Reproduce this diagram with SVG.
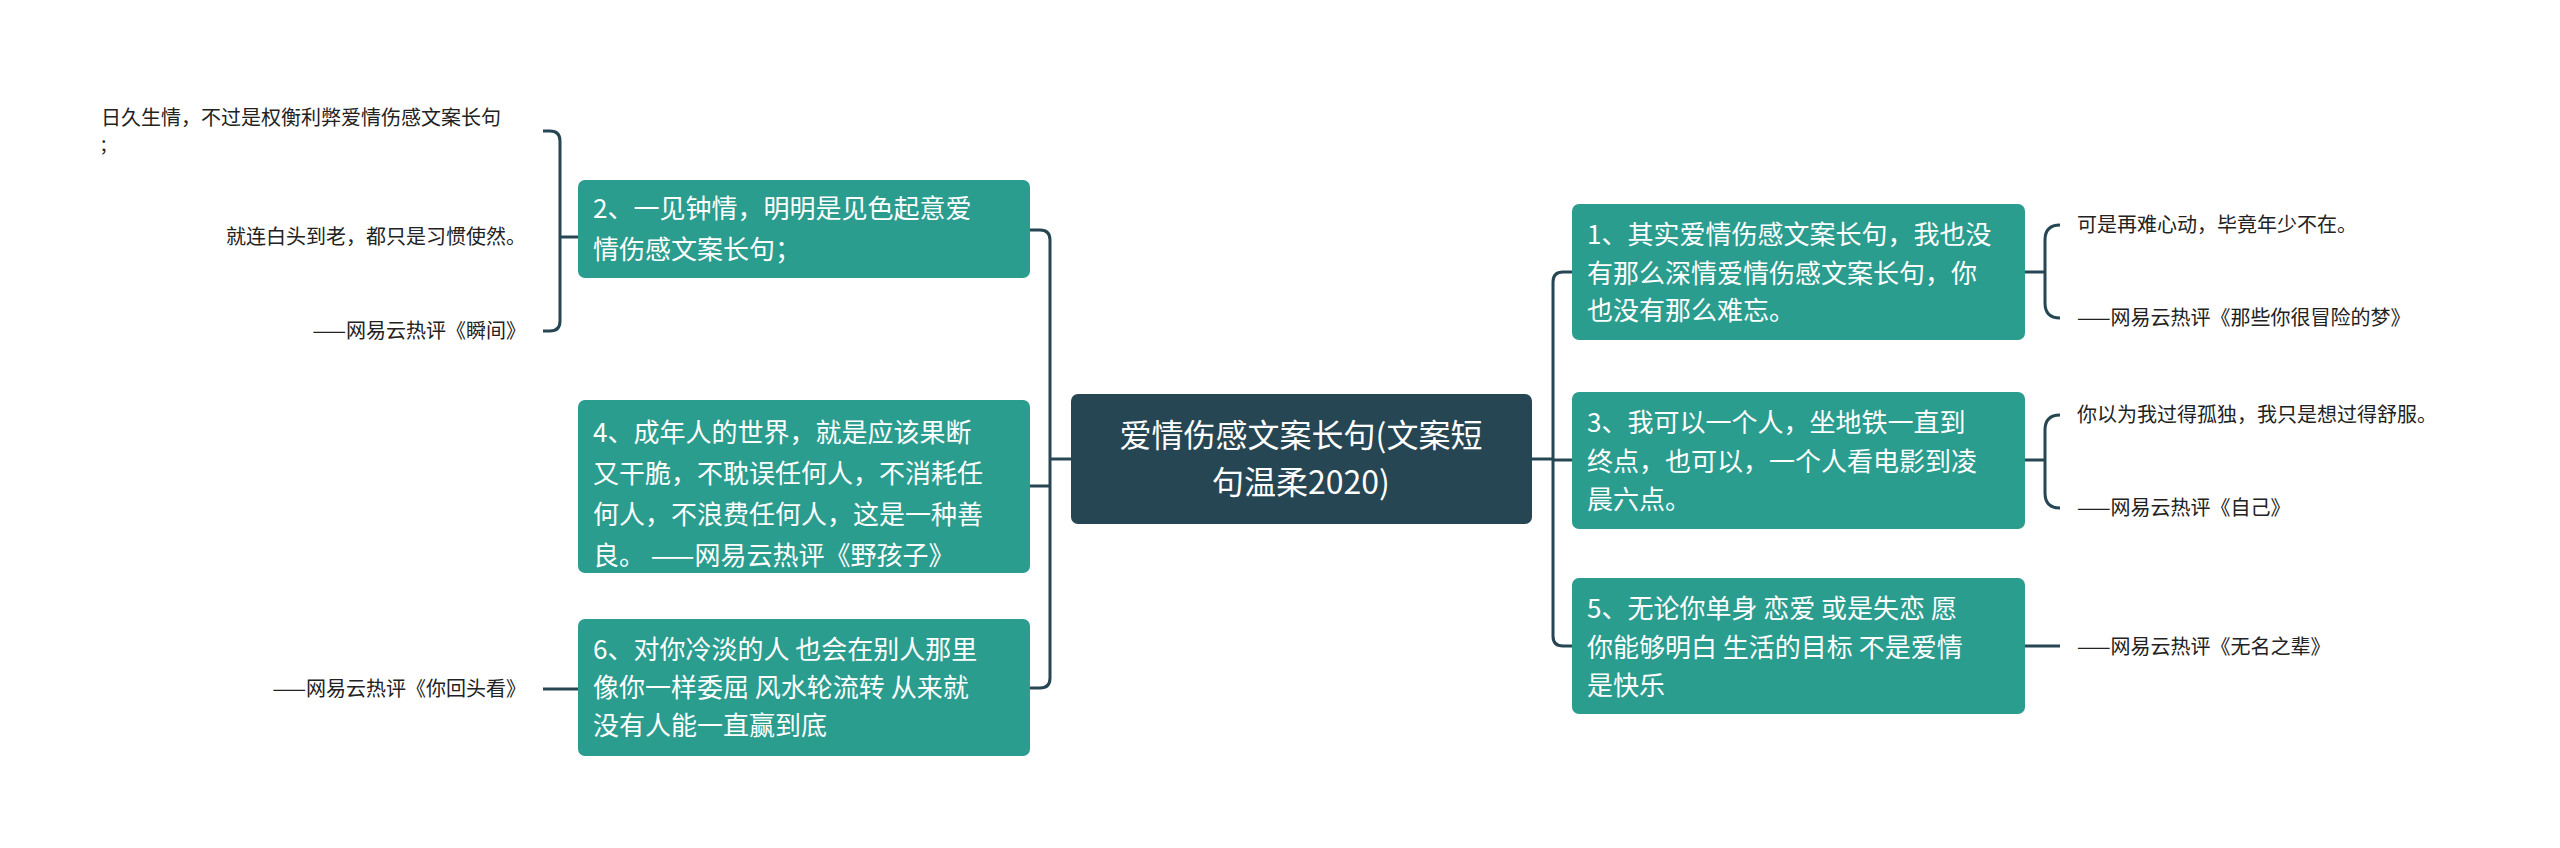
<svg xmlns="http://www.w3.org/2000/svg" width="2560" height="848" viewBox="0 0 2560 848">
<style>
.n rect{fill:#2a9d8f}
.n text{fill:#fff;font-size:26px;font-family:"Noto Sans CJK SC",sans-serif}
.c rect{fill:#264653}
.c text{fill:#fff;font-size:32px;font-family:"Noto Sans CJK SC",sans-serif;text-anchor:middle}
.l text{fill:#222;font-size:20px;font-family:"Noto Sans CJK SC",sans-serif}
.r{text-anchor:end}
#conn path{fill:none;stroke:#264653;stroke-width:3}
</style>
<rect width="2560" height="848" fill="#fff"/>
<g id="conn">
<path d="M1030 230 H1040 Q1050 230 1050 240 V678 Q1050 688 1040 688 H1030"/>
<path d="M1030 486 H1050"/>
<path d="M1050 459 H1071"/>
<path d="M1532 459 H1553"/>
<path d="M1572 272 H1563 Q1553 272 1553 282 V636 Q1553 646 1563 646 H1572"/>
<path d="M1553 460 H1572"/>
<path d="M578 237 H560"/>
<path d="M543 131 H550 Q560 131 560 141 V321 Q560 331 550 331 H543"/>
<path d="M578 689 H543"/>
<path d="M2025 272 H2045"/>
<path d="M2060 225 Q2045 225 2045 240 V303 Q2045 318 2060 318"/>
<path d="M2025 460 H2045"/>
<path d="M2060 415 Q2045 415 2045 430 V493 Q2045 508 2060 508"/>
<path d="M2025 646 H2060"/>
</g>
<g id="center" class="c"><rect x="1071" y="394" width="461" height="130" rx="7"/><text x="1301" y="447">爱情伤感文案长句(文案短</text><text x="1301" y="494">句温柔2020)</text></g>
<g id="n2" class="n"><rect x="578" y="180" width="452" height="98" rx="7"/><text x="593" y="218">2、一见钟情，明明是见色起意爱</text><text x="593" y="259">情伤感文案长句；</text></g>
<g id="n4" class="n"><rect x="578" y="400" width="452" height="173" rx="7"/><text x="593" y="442">4、成年人的世界，就是应该果断</text><text x="593" y="483">又干脆，不耽误任何人，不消耗任</text><text x="593" y="524">何人，不浪费任何人，这是一种善</text><text x="593" y="565">良。 ——网易云热评《野孩子》</text></g>
<g id="n6" class="n"><rect x="578" y="619" width="452" height="137" rx="7"/><text x="593" y="659">6、对你冷淡的人 也会在别人那里</text><text x="593" y="697">像你一样委屈 风水轮流转 从来就</text><text x="593" y="735">没有人能一直赢到底</text></g>
<g id="n1" class="n"><rect x="1572" y="204" width="453" height="136" rx="7"/><text x="1587" y="244">1、其实爱情伤感文案长句，我也没</text><text x="1587" y="283">有那么深情爱情伤感文案长句，你</text><text x="1587" y="320">也没有那么难忘。</text></g>
<g id="n3" class="n"><rect x="1572" y="392" width="453" height="137" rx="7"/><text x="1587" y="432">3、我可以一个人，坐地铁一直到</text><text x="1587" y="471">终点，也可以，一个人看电影到凌</text><text x="1587" y="509">晨六点。</text></g>
<g id="n5" class="n"><rect x="1572" y="578" width="453" height="136" rx="7"/><text x="1587" y="618">5、无论你单身 恋爱 或是失恋 愿</text><text x="1587" y="657">你能够明白 生活的目标 不是爱情</text><text x="1587" y="695">是快乐</text></g>
<g id="l2a" class="l"><text x="101" y="125">日久生情，不过是权衡利弊爱情伤感文案长句</text><text x="101" y="151">;</text></g>
<g id="l2b" class="l"><text class="r" x="526" y="244">就连白头到老，都只是习惯使然。</text></g>
<g id="l2c" class="l"><text class="r" x="526" y="338">——网易云热评《瞬间》</text></g>
<g id="l6" class="l"><text class="r" x="526" y="696">——网易云热评《你回头看》</text></g>
<g id="l1a" class="l"><text x="2077" y="232">可是再难心动，毕竟年少不在。</text></g>
<g id="l1b" class="l"><text x="2077" y="325">——网易云热评《那些你很冒险的梦》</text></g>
<g id="l3a" class="l"><text x="2077" y="422">你以为我过得孤独，我只是想过得舒服。</text></g>
<g id="l3b" class="l"><text x="2077" y="515">——网易云热评《自己》</text></g>
<g id="l5" class="l"><text x="2077" y="654">——网易云热评《无名之辈》</text></g>
</svg>
